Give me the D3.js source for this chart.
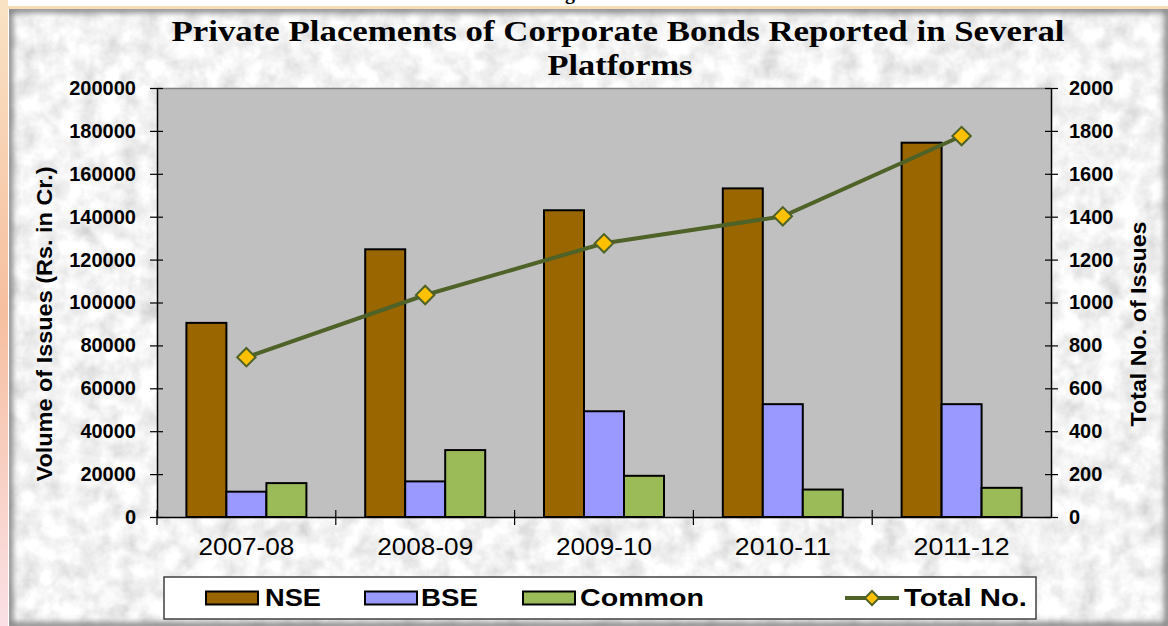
<!DOCTYPE html>
<html>
<head>
<meta charset="utf-8">
<script src="https://cdn.jsdelivr.net/npm/d3@7"></script>
<style>
  body { margin: 0; background: #fff; }
  svg { display: block; }
  text { font-family: "Liberation Sans", Arial, sans-serif; }
</style>
</head>
<body>
<div id="chart"></div>
<script>
// data
const years = ["2007-08", "2008-09", "2009-10", "2010-11", "2011-12"];
const seriesNames = ["NSE", "BSE", "Common"];
const nse = [90500, 124800, 143000, 153200, 174500];
const bse = [11800, 16600, 49300, 52600, 52600];
const common = [15800, 31200, 19200, 12800, 13600];
const totalNo = [745, 1035, 1276, 1402, 1776];
const volumeTicks = [0, 20000, 40000, 60000, 80000, 100000, 120000, 140000, 160000, 180000, 200000];
const countTicks = [0, 200, 400, 600, 800, 1000, 1200, 1400, 1600, 1800, 2000];

const width = 1168,
  height = 626;
const plot = { left: 157, right: 1051, top: 88, bottom: 517 };
const colors = { NSE: "#996600", BSE: "#9999FF", Common: "#9BBB59" };
const lineColor = "#4F6228",
  markerColor = "#FFC000";

const svg = d3
  .select("#chart")
  .append("svg")
  .attr("width", width)
  .attr("height", height);

const defs = svg.append("defs");

// paper like texture for the chart area
const paper = defs.append("filter").attr("id", "paper")
  .attr("x", 0).attr("y", 0).attr("width", "100%").attr("height", "100%");
paper.append("feTurbulence")
  .attr("type", "fractalNoise")
  .attr("baseFrequency", "0.05")
  .attr("numOctaves", 4)
  .attr("seed", 7);
paper.append("feColorMatrix").attr("type", "saturate").attr("values", 0);
const ct = paper.append("feComponentTransfer");
["R", "G", "B"].forEach((c) =>
  ct.append("feFunc" + c).attr("type", "linear").attr("slope", 0.75).attr("intercept", 0.53)
);
ct.append("feFuncA").attr("type", "linear").attr("slope", 0).attr("intercept", 1);

defs.append("filter").attr("id", "blur").append("feGaussianBlur").attr("stdDeviation", 3);
defs.append("clipPath").attr("id", "areaClip")
  .append("rect").attr("x", 9).attr("y", 9).attr("width", width - 9).attr("height", height - 9);

const edge = defs.append("linearGradient").attr("id", "edge")
  .attr("x1", 0).attr("y1", 0).attr("x2", 0).attr("y2", 1);
edge.append("stop").attr("offset", "0%").attr("stop-color", "#f9e2c4");
edge.append("stop").attr("offset", "50%").attr("stop-color", "#f6bfa0");
edge.append("stop").attr("offset", "100%").attr("stop-color", "#fae0e6");

// page fragments around the chart
svg.append("rect").attr("x", 0).attr("y", 0).attr("width", 8).attr("height", height).attr("fill", "url(#edge)");
svg.append("rect").attr("x", 8).attr("y", 6).attr("width", width - 8).attr("height", 3).attr("fill", "#f7dcb4");
svg.append("text")
  .attr("x", 600).attr("y", -1)
  .attr("text-anchor", "middle")
  .style("font-family", "'Liberation Serif', serif")
  .style("font-weight", "bold")
  .style("font-size", "20px")
  .text("Figure No. 6");

// chart area
svg.append("rect")
  .attr("x", 9).attr("y", 9).attr("width", width - 9).attr("height", height - 9)
  .attr("fill", "#e6e6e6")
  .attr("filter", "url(#paper)");
svg.append("g").attr("clip-path", "url(#areaClip)")
  .append("rect")
  .attr("x", 9).attr("y", 9).attr("width", width - 9).attr("height", height - 9)
  .attr("fill", "none")
  .attr("stroke", "#7a7a7a")
  .attr("stroke-width", 7)
  .attr("filter", "url(#blur)");

// title
const title = svg.append("text")
  .attr("text-anchor", "middle")
  .style("font-family", "'Liberation Serif', 'Times New Roman', serif")
  .style("font-weight", "bold")
  .style("font-size", "29px");
title.append("tspan").attr("x", 618).attr("y", 41)
  .attr("textLength", 893).attr("lengthAdjust", "spacingAndGlyphs")
  .text("Private Placements of Corporate Bonds Reported in Several");
title.append("tspan").attr("x", 620).attr("y", 75)
  .attr("textLength", 145).attr("lengthAdjust", "spacingAndGlyphs")
  .text("Platforms");

// scales
const x0 = d3.scaleBand().domain(years).range([plot.left, plot.right]).padding(0);
const x1 = d3.scaleBand().domain(seriesNames).range([0, x0.bandwidth()])
  .paddingInner(0).paddingOuter(0.735);
const y = d3.scaleLinear().domain([0, 200000]).range([plot.bottom, plot.top]);
const y2 = d3.scaleLinear().domain([0, 2000]).range([plot.bottom, plot.top]);

// plot area
svg.append("rect")
  .attr("x", plot.left).attr("y", plot.top)
  .attr("width", plot.right - plot.left).attr("height", plot.bottom - plot.top)
  .attr("fill", "#C0C0C0");
svg.append("line")
  .attr("x1", plot.left).attr("x2", plot.right)
  .attr("y1", plot.top + 0.5).attr("y2", plot.top + 0.5)
  .attr("stroke", "#808080").attr("stroke-width", 1.5);

// bars
const rows = years.map((yr, i) => ({ year: yr, NSE: nse[i], BSE: bse[i], Common: common[i] }));
svg.append("g")
  .selectAll("g")
  .data(rows)
  .join("g")
  .attr("transform", (d) => "translate(" + x0(d.year) + ",0)")
  .selectAll("rect")
  .data((d) => seriesNames.map((s) => ({ key: s, value: d[s] })))
  .join("rect")
  .attr("x", (d) => x1(d.key))
  .attr("y", (d) => y(d.value))
  .attr("width", x1.bandwidth())
  .attr("height", (d) => y(0) - y(d.value))
  .attr("fill", (d) => colors[d.key])
  .attr("stroke", "#000")
  .attr("stroke-width", 2);

// axes
const leftAxis = svg.append("g")
  .attr("transform", "translate(" + plot.left + ",0)")
  .call(d3.axisLeft(y).tickValues(volumeTicks).tickFormat(d3.format("d"))
    .tickSize(7).tickSizeOuter(0).tickPadding(14));
leftAxis.selectAll(".tick line").attr("x1", 6);

const rightAxis = svg.append("g")
  .attr("transform", "translate(" + plot.right + ",0)")
  .call(d3.axisRight(y2).tickValues(countTicks).tickFormat(d3.format("d"))
    .tickSize(7).tickSizeOuter(0).tickPadding(11));
rightAxis.selectAll(".tick line").attr("x1", -6);

[leftAxis, rightAxis].forEach((a) => {
  a.select(".domain").attr("stroke", "#000").attr("stroke-width", 1.5);
  a.selectAll(".tick line").attr("stroke", "#000").attr("stroke-width", 1.2);
  a.selectAll(".tick text")
    .attr("fill", "#000")
    .style("font-size", "20px")
    .style("font-weight", "bold");
});

const bottomAxis = svg.append("g")
  .attr("transform", "translate(0," + plot.bottom + ")")
  .call(d3.axisBottom(x0).tickSize(8).tickSizeOuter(0).tickPadding(14));
bottomAxis.select(".domain").attr("stroke", "#000").attr("stroke-width", 1.5);
bottomAxis.selectAll(".tick line")
  .attr("transform", "translate(" + -x0.bandwidth() / 2 + ",0)")
  .attr("y1", -7)
  .attr("stroke", "#000")
  .attr("stroke-width", 1.2);
bottomAxis.selectAll(".tick text")
  .attr("fill", "#000")
  .style("font-size", "23px")
  .attr("textLength", 96)
  .attr("lengthAdjust", "spacingAndGlyphs");

// axis titles
svg.append("text")
  .attr("transform", "translate(52,324) rotate(-90)")
  .attr("text-anchor", "middle")
  .attr("textLength", 315).attr("lengthAdjust", "spacingAndGlyphs")
  .style("font-size", "22px").style("font-weight", "bold")
  .text("Volume of Issues (Rs. in Cr.)");
svg.append("text")
  .attr("transform", "translate(1146,324) rotate(-90)")
  .attr("text-anchor", "middle")
  .attr("textLength", 205).attr("lengthAdjust", "spacingAndGlyphs")
  .style("font-size", "22px").style("font-weight", "bold")
  .text("Total No. of Issues");

// total number line
const cx = (d, i) => x0(years[i]) + x0.bandwidth() / 2;
svg.append("path")
  .datum(totalNo)
  .attr("d", d3.line().x(cx).y((d) => y2(d)))
  .attr("fill", "none")
  .attr("stroke", lineColor)
  .attr("stroke-width", 4);

const diamond = d3.symbol().type(d3.symbolSquare).size(170);
svg.append("g")
  .selectAll("path")
  .data(totalNo)
  .join("path")
  .attr("d", diamond)
  .attr("transform", (d, i) => "translate(" + cx(d, i) + "," + y2(d) + ") rotate(45)")
  .attr("fill", markerColor)
  .attr("stroke", lineColor)
  .attr("stroke-width", 2);

// legend
const legend = svg.append("g");
legend.append("rect")
  .attr("x", 164).attr("y", 577).attr("width", 872).attr("height", 42)
  .attr("fill", "#fff").attr("stroke", "#404040").attr("stroke-width", 1.5);

const legendItems = [
  { name: "NSE", x: 206, tx: 265, len: 56 },
  { name: "BSE", x: 365, tx: 421, len: 57 },
  { name: "Common", x: 523, tx: 580, len: 124 },
];
legendItems.forEach((it) => {
  legend.append("rect")
    .attr("x", it.x).attr("y", 591.5).attr("width", 52).attr("height", 13)
    .attr("fill", colors[it.name]).attr("stroke", "#000").attr("stroke-width", 2);
  legend.append("text")
    .attr("x", it.tx).attr("y", 606)
    .attr("textLength", it.len).attr("lengthAdjust", "spacingAndGlyphs")
    .style("font-size", "23px").style("font-weight", "bold")
    .text(it.name);
});
legend.append("line")
  .attr("x1", 845).attr("x2", 899).attr("y1", 598).attr("y2", 598)
  .attr("stroke", lineColor).attr("stroke-width", 4);
legend.append("path")
  .attr("d", d3.symbol().type(d3.symbolSquare).size(100))
  .attr("transform", "translate(872,598) rotate(45)")
  .attr("fill", markerColor).attr("stroke", lineColor).attr("stroke-width", 2);
legend.append("text")
  .attr("x", 904).attr("y", 606)
  .attr("textLength", 123).attr("lengthAdjust", "spacingAndGlyphs")
  .style("font-size", "23px").style("font-weight", "bold")
  .text("Total No.");
</script>
</body>
</html>
